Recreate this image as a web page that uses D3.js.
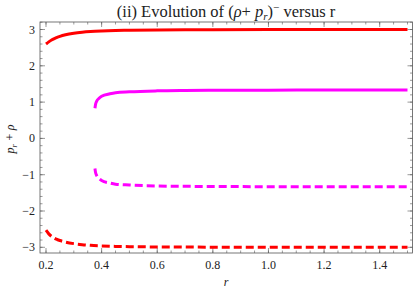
<!DOCTYPE html>
<html><head><meta charset="utf-8">
<script src="https://cdn.jsdelivr.net/npm/d3@7"></script>
<style>body{margin:0;background:#fff}svg{display:block}</style>
</head><body><svg id="c" width="415" height="293"></svg>
<script>
const xTicks = [0.2, 0.4, 0.6, 0.8, 1.0, 1.2, 1.4];
const yTicks = [-3, -2, -1, 0, 1, 2, 3];
const rRed = [0.2, 0.21, 0.22, 0.23, 0.24, 0.25, 0.27, 0.3, 0.33, 0.36, 0.4, 0.45, 0.5, 0.6, 0.7, 0.8, 1.0, 1.2, 1.5];
const redSolid = [2.6, 2.66, 2.71, 2.75, 2.785, 2.813, 2.856, 2.899, 2.927, 2.946, 2.962, 2.975, 2.982, 2.99, 2.994, 2.996, 2.998, 2.999, 3.0];
const redDashed = [-2.53, -2.63, -2.7, -2.75, -2.785, -2.813, -2.856, -2.899, -2.927, -2.946, -2.962, -2.975, -2.982, -2.99, -2.994, -2.996, -2.998, -2.999, -3.0];
const rMag = [0.376, 0.378, 0.382, 0.39, 0.40, 0.43, 0.45, 0.5, 0.6, 0.7, 0.8, 1.0, 1.2, 1.5];
const magSolid = [0.83, 0.93, 1.02, 1.10, 1.16, 1.23, 1.26, 1.285, 1.31, 1.32, 1.325, 1.33, 1.333, 1.335];
const magDashed = [-0.83, -0.93, -1.02, -1.10, -1.16, -1.23, -1.26, -1.285, -1.31, -1.32, -1.325, -1.33, -1.333, -1.335];

const FONT = "'Liberation Serif', 'Times New Roman', Times, serif";
const svg = d3.select("#c");
const L = 40, R = 412.5, T = 22, B = 253;
const x = d3.scaleLinear().domain([0.1784, 1.518]).range([L, R]);
const y = d3.scaleLinear().domain([-3.157, 3.207]).range([B, T]);
const frameCol = "#555";

const xMinor = d3.range(0.2, 1.51, 0.05).map(v => +v.toFixed(2));
const yMinor = d3.range(-3.2, 3.21, 0.2).map(v => +v.toFixed(1)).filter(v => v >= -3.157 && v <= 3.207);

const g = svg.append("g");
function xt(vals, len) {
  vals.forEach(v => {
    const px = x(v);
    g.append("line").attr("x1", px).attr("x2", px).attr("y1", B).attr("y2", B - len).attr("stroke", frameCol).attr("stroke-width", 0.6);
    g.append("line").attr("x1", px).attr("x2", px).attr("y1", T).attr("y2", T + len).attr("stroke", frameCol).attr("stroke-width", 0.6);
  });
}
function yt(vals, len) {
  vals.forEach(v => {
    const py = y(v);
    g.append("line").attr("x1", L).attr("x2", L + len).attr("y1", py).attr("y2", py).attr("stroke", frameCol).attr("stroke-width", 0.6);
    g.append("line").attr("x1", R).attr("x2", R - len).attr("y1", py).attr("y2", py).attr("stroke", frameCol).attr("stroke-width", 0.6);
  });
}
xt(xMinor, 2.5);
xt(xTicks, 5);
yt(yMinor, 2.5);
yt(yTicks, 5);

g.append("rect").attr("x", L).attr("y", T).attr("width", R - L).attr("height", B - T)
  .attr("fill", "none").attr("stroke", frameCol).attr("stroke-width", 0.8);

svg.append("g").selectAll("text").data(xTicks).join("text")
  .attr("x", d => x(d)).attr("y", 269).attr("text-anchor", "middle").attr("font-family", FONT)
  .attr("font-size", 12).attr("fill", "#222").text(d => d.toFixed(1));
svg.append("g").selectAll("text").data(yTicks).join("text")
  .attr("x", 35).attr("y", d => y(d) + 4).attr("text-anchor", "end").attr("font-family", FONT)
  .attr("font-size", 12).attr("fill", "#222").text(d => d < 0 ? "\u2212" + Math.abs(d) : d);

svg.append("text").attr("x", 226).attr("y", 286).attr("text-anchor", "middle").attr("font-family", FONT)
  .attr("font-size", 12).attr("font-style", "italic").attr("fill", "#222").text("r");
const yl = svg.append("text").attr("transform", "translate(14,139) rotate(-90)").attr("text-anchor", "middle")
  .attr("font-family", FONT).attr("font-size", 12).attr("font-style", "italic").attr("fill", "#222");
yl.append("tspan").text("p");
yl.append("tspan").attr("font-size", 8.5).attr("dy", 3).text("r");
yl.append("tspan").attr("dy", -3).text(" + \u03C1");

const t = svg.append("text").attr("x", 226).attr("y", 16.5).attr("text-anchor", "middle")
  .attr("font-family", FONT).attr("font-size", 16.5).attr("fill", "#222");
t.append("tspan").text("(ii) Evolution of (");
t.append("tspan").attr("font-style", "italic").text("\u03C1");
t.append("tspan").text("+ ");
t.append("tspan").attr("font-style", "italic").text("p");
t.append("tspan").attr("font-style", "italic").attr("font-size", 11).attr("dy", 3).text("r");
t.append("tspan").attr("dy", -3).text(")");
t.append("tspan").attr("font-size", 11).attr("dy", -6).text("\u2212");
t.append("tspan").attr("dy", 6).text("  versus r");

const line = d3.line().x(d => x(d[0])).y(d => y(d[1])).curve(d3.curveMonotoneX);
const series = [
  {r: rRed, v: redSolid, c: "#ff0000", dash: null},
  {r: rRed, v: redDashed, c: "#ff0000", dash: "8,4"},
  {r: rMag, v: magSolid, c: "#ff00ff", dash: null},
  {r: rMag, v: magDashed, c: "#ff00ff", dash: "8,4"}
];
series.forEach(s => {
  svg.append("path").datum(s.r.map((r, i) => [r, s.v[i]]))
    .attr("d", line).attr("fill", "none").attr("stroke", s.c).attr("stroke-width", 3)
    .attr("stroke-dasharray", s.dash);
});
</script></body></html>
